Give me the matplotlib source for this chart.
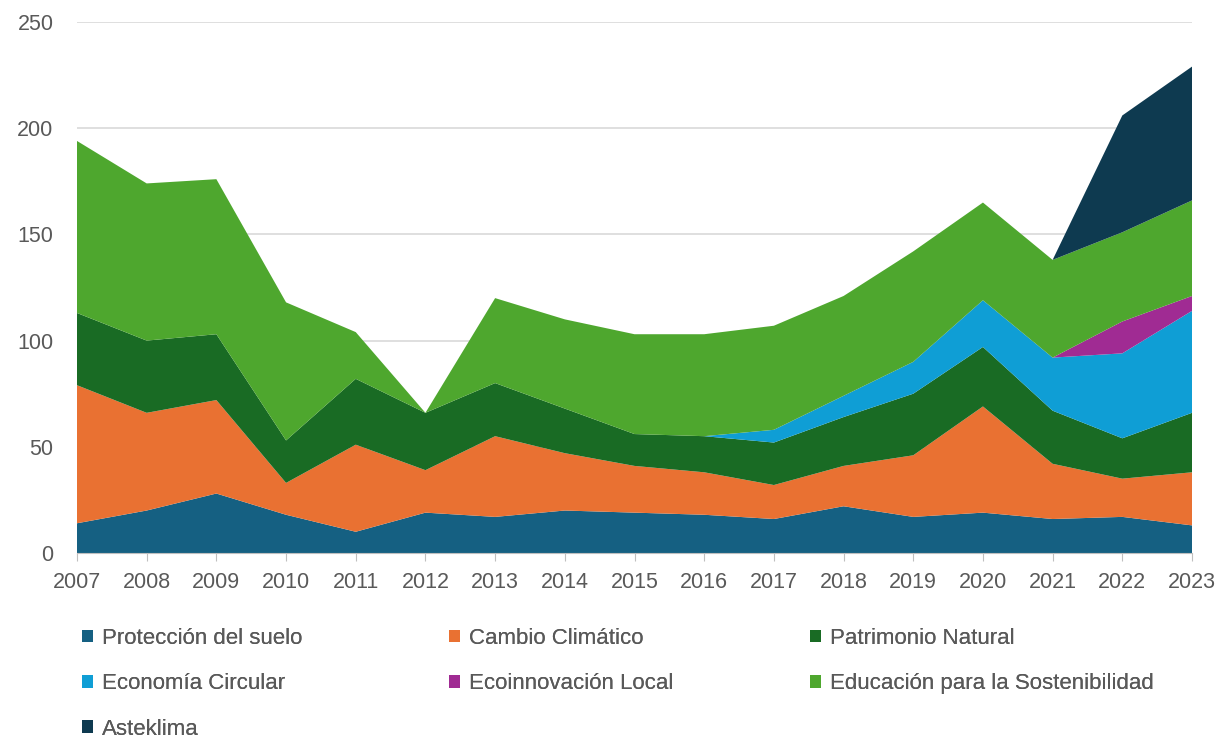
import matplotlib
matplotlib.use("Agg")
import matplotlib.pyplot as plt
from matplotlib.patches import Patch

years = list(range(2007, 2024))
proteccion = [14, 20, 28, 18, 10, 19, 17, 20, 19, 18, 16, 22, 17, 19, 16, 17, 13]
cambio = [65, 46, 44, 15, 41, 20, 38, 27, 22, 20, 16, 19, 29, 50, 26, 18, 25]
patrimonio = [34, 34, 31, 20, 31, 27, 25, 21, 15, 17, 20, 23, 29, 28, 25, 19, 28]
economia = [0, 0, 0, 0, 0, 0, 0, 0, 0, 0, 6, 10, 15, 22, 25, 40, 48]
ecoinnovacion = [0, 0, 0, 0, 0, 0, 0, 0, 0, 0, 0, 0, 0, 0, 0, 15, 7]
educacion = [81, 74, 73, 65, 22, 0, 40, 42, 47, 48, 49, 47, 52, 46, 46, 42, 45]
asteklima = [0, 0, 0, 0, 0, 0, 0, 0, 0, 0, 0, 0, 0, 0, 0, 55, 63]

labels = ["Protección del suelo", "Cambio Climático", "Patrimonio Natural",
          "Economía Circular", "Ecoinnovación Local", "Educación para la Sostenibilidad",
          "Asteklima"]
colors = ["#156082", "#E97132", "#196B24", "#0F9ED5", "#A02B93", "#4EA72E", "#0E3A50"]

plt.rcParams['font.family'] = ['Liberation Sans', 'DejaVu Sans']
txt = "#595959"
fs = 15.5
lfs = 16

fig = plt.figure(figsize=(12.19, 7.39), dpi=100)
ax = fig.add_axes([77/1219, 1-553/739, (1192-77)/1219, (553-22)/739])

series = [proteccion, cambio, patrimonio, economia, ecoinnovacion, educacion, asteklima]
polys = ax.stackplot(years, *series, colors=colors, labels=labels, linewidth=0, zorder=3)

ax.set_xlim(2007, 2023)
ax.set_ylim(0, 250)
ax.set_yticks(range(0, 251, 50))
ax.set_xticks(years)
ax.grid(axis='y', color='#D9D9D9', linewidth=1.2, zorder=0)
for s in ['top', 'right', 'left']:
    ax.spines[s].set_visible(False)
ax.spines['bottom'].set_color('#BFBFBF')
ax.spines['bottom'].set_zorder(4)
ax.tick_params(axis='y', length=0, pad=17, labelsize=fs, labelcolor=txt)
ax.tick_params(axis='x', length=6, color='#BFBFBF', pad=8, labelsize=fs, labelcolor=txt)

handles = [Patch(facecolor=c, edgecolor='none') for c in colors]
cols = [[0, 3, 6], [1, 4], [2, 5]]
xpos = [73, 440, 801]
for col, x in zip(cols, xpos):
    leg = fig.legend([handles[i] for i in col], [labels[i] for i in col],
                     loc='upper left', bbox_to_anchor=(x/1219, 1-619/739),
                     frameon=False, fontsize=lfs, labelcolor=txt,
                     handlelength=0.52, handleheight=0.52, handletextpad=0.38,
                     labelspacing=1.1, borderaxespad=0)
    fig.add_artist(leg)

fig.savefig("out.png", dpi=100)
